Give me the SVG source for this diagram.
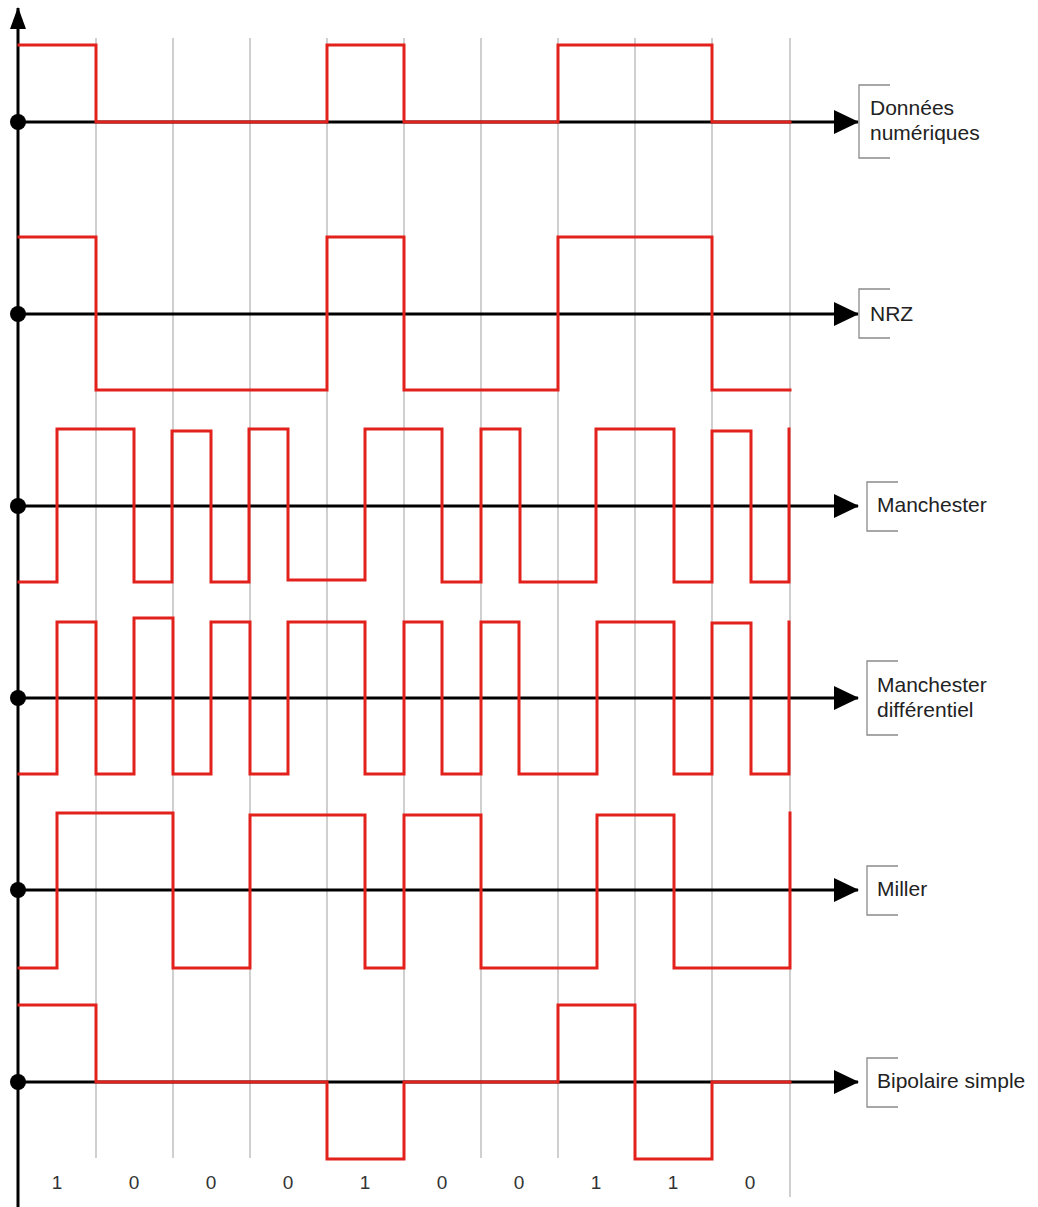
<svg xmlns="http://www.w3.org/2000/svg" width="1038" height="1207" viewBox="0 0 1038 1207">
<defs>
<style>
.grid{stroke:#b0b0b0;stroke-width:1.2;fill:none}
.axis{stroke:#000;stroke-width:3;fill:none}
.sig{stroke:#e3211c;stroke-width:3;fill:none;stroke-linejoin:miter;stroke-linecap:square}
.br{stroke:#8a8a8a;stroke-width:1.3;fill:none}
.lbl{font-family:"Liberation Sans",Arial,sans-serif;font-size:21px;fill:#222}
.num{font-family:"Liberation Sans",Arial,sans-serif;font-size:19px;fill:#333;text-anchor:middle}
</style>
<marker id="arr" markerWidth="25" markerHeight="24" refX="24" refY="12" orient="auto" markerUnits="userSpaceOnUse">
<path d="M0,0 L25,12 L0,24 Z" fill="#000"/>
</marker>
<marker id="arrv" markerWidth="22" markerHeight="16" refX="21" refY="8" orient="auto" markerUnits="userSpaceOnUse">
<path d="M0,0 L22,8 L0,16 Z" fill="#000"/>
</marker>
</defs>
<rect width="1038" height="1207" fill="#fff"/>
<g id="grid">
<line class="grid" x1="96" y1="38" x2="96" y2="1158"/>
<line class="grid" x1="173" y1="38" x2="173" y2="1158"/>
<line class="grid" x1="250" y1="38" x2="250" y2="1158"/>
<line class="grid" x1="327" y1="38" x2="327" y2="1158"/>
<line class="grid" x1="404" y1="38" x2="404" y2="1158"/>
<line class="grid" x1="481" y1="38" x2="481" y2="1158"/>
<line class="grid" x1="558" y1="38" x2="558" y2="1158"/>
<line class="grid" x1="635" y1="38" x2="635" y2="1158"/>
<line class="grid" x1="712" y1="38" x2="712" y2="1158"/>
<line class="grid" x1="790" y1="38" x2="790" y2="1197"/>
</g>
<g id="connectors">
<line class="axis" x1="18" y1="1207" x2="18" y2="8" marker-end="url(#arrv)"/>
<line class="axis" x1="18" y1="122" x2="858" y2="122" marker-end="url(#arr)"/>
<line class="axis" x1="18" y1="314" x2="858" y2="314" marker-end="url(#arr)"/>
<line class="axis" x1="18" y1="506" x2="858" y2="506" marker-end="url(#arr)"/>
<line class="axis" x1="18" y1="698" x2="858" y2="698" marker-end="url(#arr)"/>
<line class="axis" x1="18" y1="890" x2="858" y2="890" marker-end="url(#arr)"/>
<line class="axis" x1="18" y1="1082" x2="858" y2="1082" marker-end="url(#arr)"/>
<circle cx="18" cy="122" r="8" fill="#000"/>
<circle cx="18" cy="314" r="8" fill="#000"/>
<circle cx="18" cy="506" r="8" fill="#000"/>
<circle cx="18" cy="698" r="8" fill="#000"/>
<circle cx="18" cy="890" r="8" fill="#000"/>
<circle cx="18" cy="1082" r="8" fill="#000"/>
</g>
<g id="donnees">
<path class="sig" d="M19,45 H96 V122 H327 V45 H404 V122 H558 V45 H712 V122 H790"/>
<path class="br" d="M890,85 H859 V158 H890"/>
<text class="lbl" x="870" y="115">Données</text>
<text class="lbl" x="870" y="140">numériques</text>
</g>
<g id="nrz">
<path class="sig" d="M19,237 H96 V390 H327 V237 H404 V390 H558 V237 H712 V390 H790"/>
<path class="br" d="M890,289 H859 V338 H890"/>
<text class="lbl" x="870" y="321">NRZ</text>
</g>
<g id="manchester">
<path class="sig" d="M19,582 H57 V429 H134 V582 H172 V431 H211 V582 H249 V429 H288 V580 H365 V429 H442 V582 H481 V429 H520 V582 H596 V429 H674 V582 H712 V431 H751 V582 H789 V429"/>
<path class="br" d="M898,482 H867 V531 H898"/>
<text class="lbl" x="877" y="512">Manchester</text>
</g>
<g id="manchester-diff">
<path class="sig" d="M19,774 H57 V622 H96 V774 H134 V618 H173 V774 H211 V622 H250 V774 H288 V622 H365 V774 H404 V622 H442 V774 H481 V622 H519 V774 H597 V622 H674 V774 H712 V623 H751 V774 H789 V622"/>
<path class="br" d="M898,661 H867 V735 H898"/>
<text class="lbl" x="877" y="692">Manchester</text>
<text class="lbl" x="877" y="717">différentiel</text>
</g>
<g id="miller">
<path class="sig" d="M19,968 H57 V813 H173 V968 H250 V815 H365 V968 H404 V815 H481 V968 H597 V815 H674 V968 H790 V813"/>
<path class="br" d="M898,866 H867 V915 H898"/>
<text class="lbl" x="877" y="896">Miller</text>
</g>
<g id="bipolaire">
<path class="sig" d="M19,1005 H96 V1082 H327 V1159 H404 V1082 H558 V1005 H635 V1159 H712 V1082 H790"/>
<path class="br" d="M898,1058 H867 V1107 H898"/>
<text class="lbl" x="877" y="1088">Bipolaire simple</text>
</g>
<g id="bits">
<text class="num" x="57" y="1189">1</text>
<text class="num" x="134" y="1189">0</text>
<text class="num" x="211" y="1189">0</text>
<text class="num" x="288" y="1189">0</text>
<text class="num" x="365" y="1189">1</text>
<text class="num" x="442" y="1189">0</text>
<text class="num" x="519" y="1189">0</text>
<text class="num" x="596" y="1189">1</text>
<text class="num" x="673" y="1189">1</text>
<text class="num" x="750" y="1189">0</text>
</g>
</svg>
